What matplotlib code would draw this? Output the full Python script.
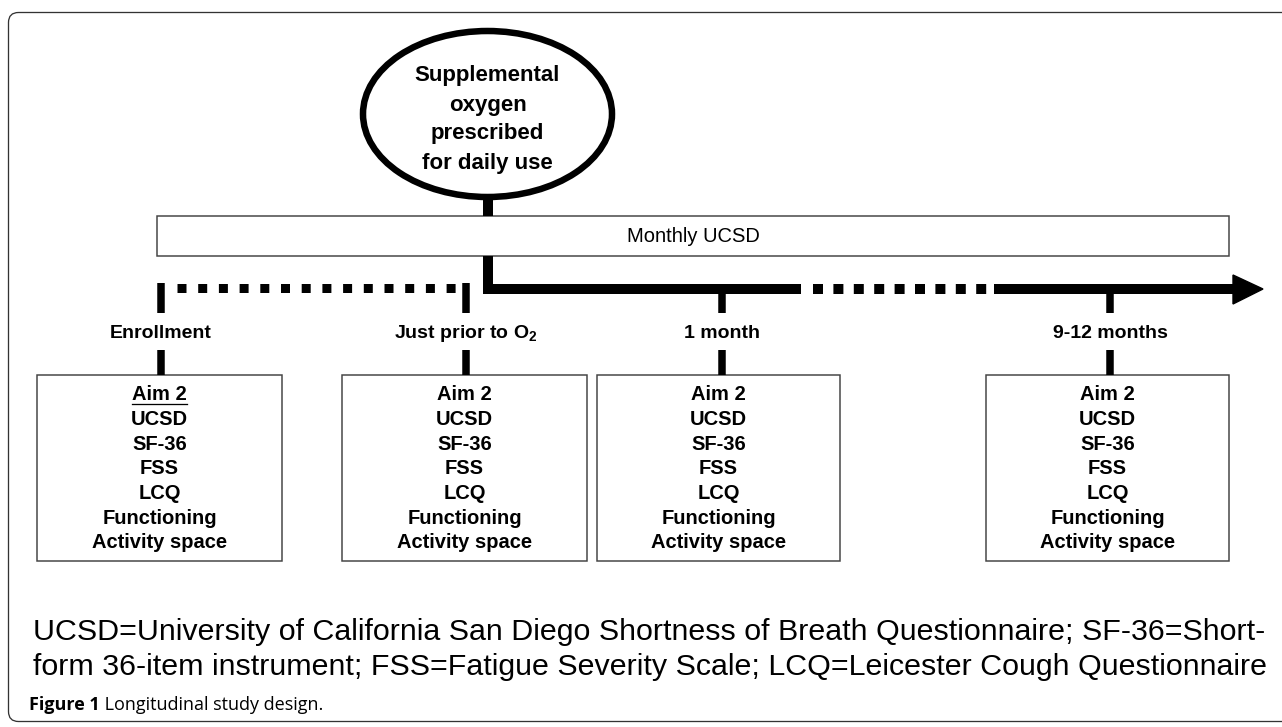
import matplotlib
matplotlib.use("Agg")
import matplotlib.pyplot as plt
from matplotlib.patches import Ellipse, Rectangle, FancyBboxPatch, Polygon

plt.rcParams['font.family'] = ['Liberation Sans', 'DejaVu Sans']
plt.rcParams['mathtext.fontset'] = 'custom'
plt.rcParams['mathtext.rm'] = 'Liberation Sans:bold'
plt.rcParams['mathtext.bf'] = 'Liberation Sans:bold'

# content
start_text = ["Supplemental", "oxygen", "prescribed", "for daily use"]
band_text = "Monthly UCSD"
timepoints = ["Enrollment", "Just prior to O$_\\mathbf{2}$", "1 month", "9-12 months"]
measures = ["Aim 2", "UCSD", "SF-36", "FSS", "LCQ", "Functioning", "Activity space"]
legend_lines = [
    "UCSD=University of California San Diego Shortness of Breath Questionnaire; SF-36=Short-",
    "form 36-item instrument; FSS=Fatigue Severity Scale; LCQ=Leicester Cough Questionnaire",
]
fig_label = "Figure 1"
fig_title = " Longitudinal study design."

# layout (pixels)
W, H = 1282, 727
px = 0.72  # points per pixel at dpi 100
tick_x = [161, 466, 722, 1110]
box_x = [(37, 282), (342, 587), (597, 840), (986, 1229)]
box_top, box_bot = 375, 561
line_y = 289

fig = plt.figure(figsize=(W / 100, H / 100), dpi=100)
ax = fig.add_axes([0, 0, 1, 1])
ax.set_xlim(0, W)
ax.set_ylim(H, 0)
ax.axis('off')

# outer frame (open on the right)
ax.add_patch(FancyBboxPatch((8.5, 12.5), 1320, 709, boxstyle="round,pad=0,rounding_size=10",
                            fill=False, ec='#333333', lw=1.3 * px))

# start ellipse
ax.add_patch(Ellipse((487.5, 114), 249, 166, fill=False, ec='black', lw=6.5 * px))
for i, s in enumerate(start_text):
    ax.text(487.5, 76 + i * 29, s, ha='center', va='center', fontsize=16, fontweight='bold')

# monthly band
ax.plot([488, 488], [197, 216], color='black', lw=10 * px, solid_capstyle='butt')
ax.add_patch(Rectangle((157, 216), 1229 - 157, 40, fill=False, ec='#444444', lw=1.5 * px))
ax.text((157 + 1229) / 2, 237, band_text, ha='center', va='center', fontsize=14.5)

# timeline
ax.plot([488, 488], [256, line_y], color='black', lw=10 * px, solid_capstyle='butt')
ax.plot([483, 801], [line_y, line_y], color='black', lw=10 * px, solid_capstyle='butt')
ax.plot([813, 992], [line_y, line_y], color='black', lw=10 * px, linestyle=(0, (1, 1.04)),
        dash_capstyle='butt')
ax.plot([994, 1234], [line_y, line_y], color='black', lw=10 * px, solid_capstyle='butt')
ax.add_patch(Polygon([(1233, 275), (1263, line_y), (1233, 304)], closed=True, color='black'))
ax.plot([177, 462], [288, 288], color='black', lw=9 * px, linestyle=(0, (1, 1.3)),
        dash_capstyle='butt')

# ticks, labels, boxes
for x, lab, (x0, x1) in zip(tick_x, timepoints, box_x):
    top = 283 if x < 480 else line_y
    ax.plot([x, x], [top, 313], color='black', lw=7.5 * px, solid_capstyle='butt')
    ax.plot([x, x], [350, box_top], color='black', lw=7.5 * px, solid_capstyle='butt')
    ax.text(x, 333, lab, ha='center', va='center', fontsize=14, fontweight='bold')
    ax.add_patch(Rectangle((x0, box_top), x1 - x0, box_bot - box_top, fill=False,
                           ec='#444444', lw=1.5 * px))
    cx = (x0 + x1) / 2
    for j, m in enumerate(measures):
        t = ax.text(cx, 395 + j * 24.6, m, ha='center', va='center', fontsize=14.5,
                    fontweight='bold')
        if j == 0 and x0 == box_x[0][0]:
            aim_text = t

# legend lines
leg = []
for i, s in enumerate(legend_lines):
    leg.append(ax.text(33, 632 + i * 35, s, ha='left', va='center', fontsize=20))

fl = ax.text(29, 705, fig_label, ha='left', va='center', fontsize=13, fontweight='bold',
             family='Open Sans')

fig.canvas.draw()
r = fig.canvas.get_renderer()
inv = ax.transData.inverted()

# fit the legend to its width in the picture
w = leg[0].get_window_extent(r).width
size = 20 * 1230 / w
for t in leg:
    t.set_fontsize(size)

# underline for Aim 2
bb = aim_text.get_window_extent(r)
(ux0, uy), (ux1, _) = inv.transform([(bb.x0, bb.y0), (bb.x1, bb.y0)])
ax.plot([ux0, ux1], [uy - 1, uy - 1], color='black', lw=1.3 * px)

# rest of the figure title
bb = fl.get_window_extent(r)
tx, _ = inv.transform((bb.x1, bb.y0))
ax.text(tx, 705, fig_title, ha='left', va='center', fontsize=13, family='Open Sans')

fig.savefig('out.png', dpi=100)
